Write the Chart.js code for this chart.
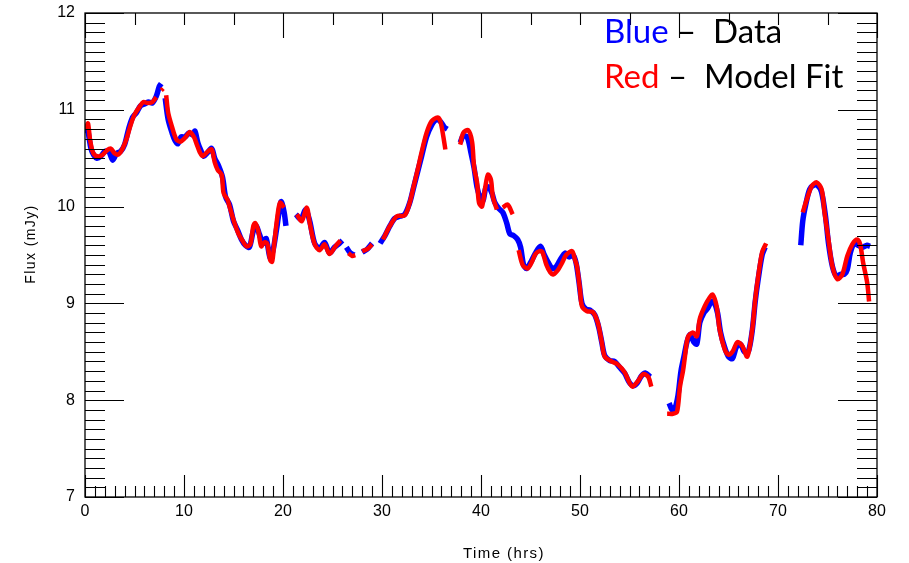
<!DOCTYPE html>
<html>
<head>
<meta charset="utf-8">
<script src="https://cdn.jsdelivr.net/npm/chart.js@4.4.1/dist/chart.umd.min.js"></script>
<style>
  html, body { margin: 0; padding: 0; background: #fff; overflow: hidden; }
  #wrap { position: relative; width: 909px; height: 563px; }
  canvas { position: absolute; left: 0; top: 0; }
  .leg { position: absolute; left: 604px; font-family: Lato, "Open Sans", sans-serif; font-size: 33px; line-height: 35px; white-space: pre; color: #000; }
  .ttl { position: absolute; font-family: "Liberation Sans", Arial, sans-serif; font-size: 14px; letter-spacing: 1.4px; color: #000; white-space: pre; }
</style>
</head>
<body>
<div id="wrap">
  <canvas id="c" width="909" height="563"></canvas>
  <div class="leg" style="top:13px"><span style="color:#0000ff">Blue</span> –  Data</div>
  <div class="leg" style="top:58px"><span style="color:#ff0000">Red</span> –  Model Fit</div>
  <div class="ttl" id="ytitle" style="left:-10px; top:236px; transform: rotate(-90deg); width:80px; text-align:center;">Flux (mJy)</div>
  <div class="ttl" id="xtitle" style="left:441px; top:544px; width:126px; text-align:center; font-size:15px;">Time (hrs)</div>
</div>
<script>
// Observed data (blue), time in hours; null marks a gap
const dataTime = [
  0.0,0.2,0.4,0.6,0.9,1.2,1.6,2.0,2.4,2.8,3.2,3.6,4.0,4.4,4.8,5.2,5.6,6.0,6.4,6.8,7.2,7.5,7.7, 7.9,
  8.1,8.4,8.8,9.1,9.4,9.7,10.1,10.5,10.9,11.1,11.4,11.7,12.0,12.4,12.8,13.1,13.5,13.9,14.2,14.6,15.0,15.4,15.8,16.2,16.6,17.0,17.3,17.6,18.0,18.3,18.7,19.0,19.4,19.8,20.1,20.3, 20.8,
  21.3,21.8,22.3,22.7,23.2,23.7,24.2,24.7,25.2,25.7,26.0, 26.2,
  26.4,26.8,27.2, 27.6,
  28.0,28.5,29.0, 29.4,
  29.8,30.3,30.8,31.3,31.8,32.3,32.8,33.2,33.6,34.0,34.5,35.0,35.5,35.9,36.3,36.6, 37.2,
  37.9,38.2,38.6,39.0,39.3,39.6,39.9,40.2,40.5,40.8,41.1,41.4,41.8,42.2,42.6,42.9,43.3,43.7,44.0,44.3,44.6,45.0,45.5,46.0,46.4,46.8,47.2,47.6,48.0,48.5,48.9,49.3,49.6,49.9,50.2,50.6,51.0,51.5,51.9,52.2,52.5,53.0,53.5,54.0,54.5,55.0,55.4,55.8,56.2,56.6,57.1, 58.0,
  59.0,59.3,59.6,59.9,60.2,60.5,60.8,61.1,61.5,61.8,62.1,62.5,62.9,63.3,63.6,63.9,64.2,64.6,65.0,65.4,65.8,66.2,66.6,67.0,67.4,67.7,68.0,68.4,68.7, 70.0,
  72.3,72.5,72.8,73.2,73.6,74.0,74.4,74.8,75.1,75.5,75.9,76.3,76.7,77.0,77.3,77.7,78.1,78.5,79.0,79.3
];
const dataFlux = [
  10.76,10.82,10.72,10.60,10.53,10.50,10.52,10.57,10.57,10.48,10.55,10.57,10.64,10.80,10.92,10.97,11.04,11.06,11.08,11.07,11.14,11.24,11.27, null,
  11.12,10.90,10.76,10.68,10.65,10.72,10.72,10.76,10.74,10.78,10.66,10.58,10.52,10.56,10.60,10.50,10.42,10.30,10.10,10.02,9.85,9.76,9.66,9.60,9.58,9.75,9.80,9.72,9.62,9.67,9.47,9.55,9.80,10.05,9.95,9.80, null,
  9.92,9.87,9.97,9.85,9.62,9.57,9.63,9.52,9.58,9.62,9.65, null,
  9.58,9.52,9.50, null,
  9.53,9.56,9.62, null,
  9.62,9.70,9.80,9.88,9.90,9.92,10.04,10.20,10.36,10.52,10.72,10.84,10.90,10.88,10.82,10.80, null,
  10.66,10.73,10.72,10.55,10.40,10.20,10.10,10.06,10.20,10.20,10.14,10.04,9.98,9.94,9.83,9.72,9.70,9.66,9.58,9.40,9.36,9.42,9.52,9.59,9.50,9.42,9.36,9.38,9.45,9.52,9.48,9.50,9.42,9.22,9.00,8.94,8.93,8.88,8.75,8.60,8.46,8.41,8.40,8.34,8.28,8.18,8.15,8.18,8.25,8.28,8.24, null,
  7.97,7.90,7.92,8.05,8.30,8.45,8.60,8.68,8.60,8.58,8.80,8.90,8.95,9.02,9.00,8.90,8.70,8.55,8.45,8.43,8.55,8.58,8.50,8.50,8.72,9.02,9.25,9.50,9.58, null,
  9.60,9.85,10.02,10.18,10.22,10.22,10.15,9.90,9.62,9.38,9.28,9.30,9.30,9.35,9.52,9.62,9.60,9.58,9.60,9.59
];
// Model fit (red)
const modelTime = [
  0.1,0.3,0.5,0.8,1.2,1.7,2.2,2.6,3.0,3.4,3.8,4.2,4.6,5.0,5.5,5.9,6.3,6.8,7.2, 7.4,
  7.7,7.9, 8.0,
  8.2,8.4,8.8,9.2,9.6,10.1,10.6,11.0,11.3,11.6,11.9,12.4,12.8,13.1,13.4,13.8,14.0,14.4,14.6,15.1,15.5,15.9,16.3,16.7,17.0,17.2,17.5,17.8,18.1,18.4,18.7,18.9,19.1,19.4,19.7,20.1, 20.8,
  21.4,21.9,22.4,22.7,23.2,23.7,24.2,24.7,25.3,25.8, 26.2,
  26.6,27.0,27.3, 27.6,
  28.0,28.5,29.0, 29.5,
  30.1,30.8,31.5,32.3,32.8,33.2,33.6,34.0,34.5,35.0,35.6,35.9,36.2,36.4, 37.0,
  37.9,38.2,38.7,39.1,39.3,39.6,39.8,40.1,40.4,40.7,41.0,41.2,41.6, 41.9,
  42.2,42.7,43.2, 43.5,
  43.8,44.2,44.7,45.1,45.5,45.9,46.2,46.6,47.0,47.3,47.8,48.2,48.6,49.2,49.5,49.7,50.0,50.2,50.7,51.3,51.8,52.2,52.5,53.2,53.8,54.5,55.0,55.3,55.8,56.4,56.9,57.2, 58.0,
  58.8,59.4,59.8,60.1,60.4,60.6,60.9,61.4,61.8,62.1,62.6,63.1,63.4,63.8,64.1,64.6,65.0,65.4,65.9,66.4,66.9,67.4,67.7,68.0,68.4,68.8, 70.0,
  72.5,72.9,73.4,73.9,74.4,74.7,75.1,75.5,76.0,76.5,77.0,77.5,78.0,78.3,78.6,79.0,79.2
];
const modelFlux = [
  10.80,10.86,10.70,10.56,10.52,10.53,10.58,10.60,10.55,10.54,10.60,10.70,10.84,10.95,11.03,11.08,11.07,11.08,11.13, null,
  11.20,11.22, null,
  11.15,10.97,10.82,10.70,10.67,10.71,10.77,10.72,10.64,10.56,10.52,10.57,10.59,10.46,10.38,10.33,10.14,10.07,10.00,9.83,9.72,9.65,9.59,9.61,9.80,9.83,9.75,9.59,9.63,9.62,9.45,9.43,9.60,9.87,10.04,9.99, null,
  9.92,9.85,9.99,9.83,9.61,9.55,9.61,9.51,9.59,9.65, null,
  9.52,9.49,9.50, null,
  9.54,9.56,9.61, null,
  9.66,9.80,9.90,9.91,10.04,10.21,10.38,10.56,10.76,10.88,10.92,10.88,10.72,10.59, null,
  10.64,10.76,10.79,10.67,10.41,10.25,10.04,10.00,10.18,10.33,10.28,10.10,9.97, null,
  9.99,10.02,9.92, null,
  9.55,9.40,9.36,9.42,9.51,9.54,9.53,9.40,9.32,9.30,9.35,9.42,9.50,9.54,9.45,9.38,9.14,8.97,8.92,8.91,8.80,8.60,8.45,8.40,8.37,8.29,8.18,8.14,8.19,8.27,8.24,8.14, null,
  7.86,7.86,7.88,8.14,8.30,8.45,8.65,8.70,8.66,8.84,8.97,9.06,9.09,8.97,8.73,8.53,8.47,8.50,8.60,8.56,8.45,8.73,9.04,9.28,9.53,9.62, null,
  9.94,10.07,10.21,10.25,10.18,9.94,9.66,9.38,9.25,9.30,9.49,9.61,9.66,9.61,9.42,9.22,9.02
];
const xTickValues = [0,10,20,30,40,50,60,70,80];
const yTickValues = [7,8,9,10,11,12];

function pairs(ts, fs) { return ts.map((t, i) => ({ x: t, y: fs[i] })); }

const tickPlugin = {
  id: 'inwardTicks',
  afterDraw(chart) {
    const ctx = chart.ctx, xs = chart.scales.x, ys = chart.scales.y;
    const L = chart.chartArea.left, R = chart.chartArea.right, T = chart.chartArea.top, B = chart.chartArea.bottom;
    ctx.save();
    ctx.strokeStyle = '#000';
    ctx.lineWidth = 1.3;
    ctx.strokeRect(L, T, R - L, B - T);
    ctx.lineWidth = 1.1;
    ctx.beginPath();
    for (let k = 70; k <= 120; k++) {
      const py = Math.round(ys.getPixelForValue(k / 10)) + 0.5;
      const len = (k % 10 === 0) ? 39 : 20;
      ctx.moveTo(L, py); ctx.lineTo(L + len, py);
      ctx.moveTo(R, py); ctx.lineTo(R - len, py);
    }
    for (let t = 0; t <= 80; t++) {
      const px = Math.round(xs.getPixelForValue(t)) + 0.5;
      const len = (t % 10 === 0) ? 22 : 11;
      ctx.moveTo(px, B); ctx.lineTo(px, B - len);
    }
    for (let t = 0; t <= 80; t += 5) {
      const px = Math.round(xs.getPixelForValue(t)) + 0.5;
      const len = (t % 20 === 0) ? 25 : 12;
      ctx.moveTo(px, T); ctx.lineTo(px, T + len);
    }
    ctx.stroke();
    ctx.restore();
  }
};

new Chart(document.getElementById('c'), {
  type: 'line',
  data: {
    datasets: [
      { label: 'Model Fit', data: pairs(modelTime, modelFlux), borderColor: '#ff0000', backgroundColor: '#ff0000',
        borderWidth: 4.5, pointRadius: 0, spanGaps: false, tension: 0.3, order: 0 },
      { label: 'Data', data: pairs(dataTime, dataFlux), borderColor: '#0000ff', backgroundColor: '#0000ff',
        borderWidth: 5.5, pointRadius: 0, spanGaps: false, tension: 0.3, order: 1 }
    ]
  },
  options: {
    responsive: false,
    animation: false,
    devicePixelRatio: 1,
    layout: { padding: { top: 13, right: 32, left: 0, bottom: 0 } },
    plugins: { legend: { display: false }, tooltip: { enabled: false } },
    scales: {
      x: {
        type: 'linear', min: 0, max: 80,
        afterBuildTicks(s) { s.ticks = xTickValues.map(v => ({ value: v })); },
        afterFit(s) { s.height = 66; s.paddingLeft = 0; s.paddingRight = 0; },
        grid: { display: false, drawTicks: false },
        border: { display: false },
        ticks: { padding: 5, color: '#000', font: { family: '"Liberation Sans", Arial, sans-serif', size: 16 } }
      },
      y: {
        type: 'linear', min: 7, max: 12,
        afterBuildTicks(s) { s.ticks = yTickValues.map(v => ({ value: v })); },
        afterFit(s) { s.width = 85; s.paddingTop = 0; s.paddingBottom = 0; },
        grid: { display: false, drawTicks: false },
        border: { display: false },
        ticks: { padding: 10, color: '#000', font: { family: '"Liberation Sans", Arial, sans-serif', size: 16 } }
      }
    }
  },
  plugins: [tickPlugin]
});
</script>
</body>
</html>
